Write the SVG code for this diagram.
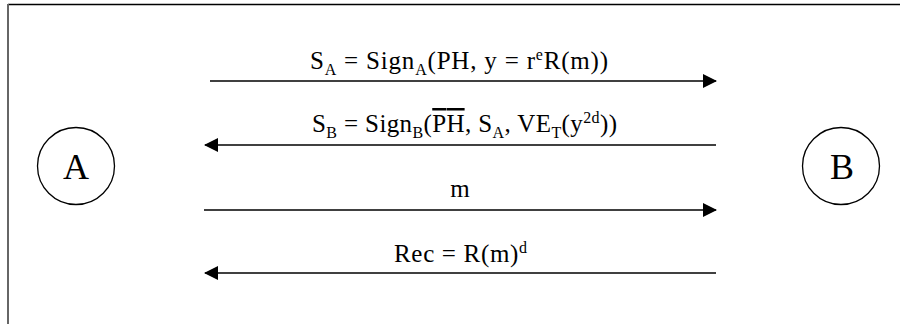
<svg xmlns="http://www.w3.org/2000/svg" width="900" height="324" viewBox="0 0 900 324">
<style>
.t{font-family:"Liberation Serif","Times New Roman",serif;font-size:25px;fill:#000}
.s{font-size:16px}
.ov{text-decoration:overline}
.lbl{font-family:"Liberation Serif","Times New Roman",serif;font-size:36px;fill:#000;text-anchor:middle}
.node{fill:#fff;stroke:#000;stroke-width:1.3}
.conn line{stroke:#000;stroke-width:1.5}
</style>
<defs>
<marker id="ah" viewBox="0 0 14 14" refX="13" refY="7" markerWidth="14" markerHeight="14" markerUnits="userSpaceOnUse" orient="auto">
<path d="M0,0 L14,7 L0,14 z" fill="#000"/>
</marker>
</defs>
<rect width="900" height="324" fill="#fff"/>
<g id="frame">
<line x1="8" y1="4.5" x2="900" y2="4.5" stroke="#000" stroke-width="1.6"/>
<line x1="8" y1="4" x2="8" y2="324" stroke="#666" stroke-width="2"/>
</g>
<g id="node-A">
<circle class="node" cx="76" cy="166" r="38.5"/>
<text class="lbl" x="76" y="179">A</text>
</g>
<g id="node-B">
<circle class="node" cx="841" cy="166" r="38.5"/>
<text class="lbl" x="842" y="179">B</text>
</g>
<g class="conn" id="connectors">
<line x1="210" y1="81" x2="716" y2="81" marker-end="url(#ah)"/>
<line x1="716" y1="145" x2="205" y2="145" marker-end="url(#ah)"/>
<line x1="204" y1="210" x2="716" y2="210" marker-end="url(#ah)"/>
<line x1="716" y1="273" x2="205" y2="273" marker-end="url(#ah)"/>
</g>
<g id="labels">
<text class="t" x="310" y="69" textLength="298" lengthAdjust="spacing">S<tspan class="s" dy="6">A</tspan><tspan dy="-6"> = Sign</tspan><tspan class="s" dy="6">A</tspan><tspan dy="-6">(PH, y = r</tspan><tspan class="s" dy="-9">e</tspan><tspan dy="9">R(m))</tspan></text>
<text class="t" x="312" y="132" textLength="305" lengthAdjust="spacing">S<tspan class="s" dy="6">B</tspan><tspan dy="-6"> = Sign</tspan><tspan class="s" dy="6">B</tspan><tspan dy="-6">(</tspan><tspan class="ov">PH</tspan><tspan>, S</tspan><tspan class="s" dy="6">A</tspan><tspan dy="-6">, VE</tspan><tspan class="s" dy="6">T</tspan><tspan dy="-6">(y</tspan><tspan class="s" dy="-9">2d</tspan><tspan dy="9">))</tspan></text>
<text class="t" x="460" y="197" text-anchor="middle">m</text>
<text class="t" x="394" y="262" textLength="133" lengthAdjust="spacing">Rec = R(m)<tspan class="s" dy="-9">d</tspan></text>
</g>
</svg>
